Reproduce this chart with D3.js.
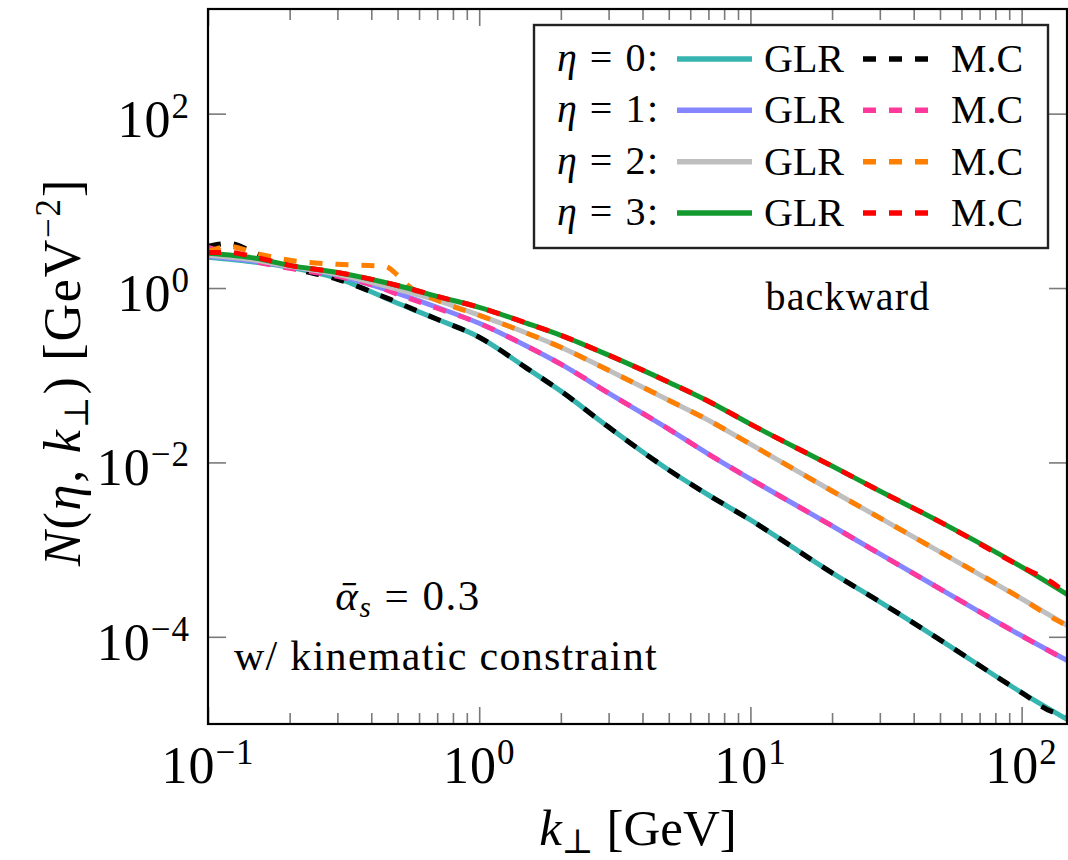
<!DOCTYPE html>
<html>
<head>
<meta charset="utf-8">
<script src="https://cdn.jsdelivr.net/npm/d3@7"></script>
<style>
  body { margin: 0; background: #fff; }
  svg { display: block; font-family: "Liberation Serif", "DejaVu Serif", serif; }
</style>
</head>
<body>
<svg id="chart"></svg>
<script>
const width = 1068, height = 860;
const box = { left: 208, right: 1067, top: 9, bottom: 724 };

// k_perp grids [GeV]
const kGLR = [0.1, 0.15, 0.2, 0.3, 0.5, 0.7, 1, 1.5, 2, 3, 5, 7, 10, 20, 30, 50, 100, 150];
const kMC = [0.1, 0.12, 0.15, 0.2, 0.3, 0.45, 0.5, 0.55, 0.7, 1, 1.5, 2, 3, 5, 7, 10, 20, 30, 50, 100, 130, 150];

// GLR solutions, N(eta, k) [GeV^-2]
const glrEta0 = [2.25, 1.97, 1.73, 1.29, 0.668, 0.438, 0.273, 0.120, 0.0657, 0.0254, 0.00818, 0.00423, 0.00219, 0.000541, 0.000252, 0.0000924, 0.0000229, 0.0000109];
const glrEta1 = [2.31, 2.02, 1.77, 1.40, 0.870, 0.601, 0.394, 0.215, 0.134, 0.0623, 0.0241, 0.01246, 0.00645, 0.00187, 0.000892, 0.000355, 0.0001027, 0.0000518];
const glrEta2 = [2.37, 2.08, 1.77, 1.44, 0.966, 0.723, 0.487, 0.303, 0.209, 0.114, 0.0517, 0.0305, 0.0162, 0.00470, 0.00231, 0.000941, 0.000273, 0.000130];
const glrEta3 = [2.50, 2.19, 1.82, 1.51, 1.07, 0.803, 0.601, 0.394, 0.287, 0.170, 0.0832, 0.0504, 0.0275, 0.00908, 0.00470, 0.00208, 0.000633, 0.000295];

// Monte Carlo results
const mcEta0 = [3.00, 3.25, 2.50, 1.73, 1.26, 0.782, 0.686, 0.601, 0.438, 0.273, 0.120, 0.0657, 0.0254, 0.00818, 0.00423, 0.00219, 0.000541, 0.000252, 0.0000924, 0.0000229, 0.0000138, 0.0000128];
const mcEta1 = [2.92, 2.50, 2.02, 1.68, 1.36, 0.966, 0.847, 0.762, 0.586, 0.394, 0.215, 0.134, 0.0623, 0.0241, 0.01246, 0.00645, 0.00187, 0.000892, 0.000355, 0.0001027, 0.0000656, 0.0000518];
const mcEta2 = [2.63, 3.00, 2.50, 2.08, 1.87, 1.77, 1.40, 1.05, 0.723, 0.487, 0.303, 0.209, 0.114, 0.0517, 0.0305, 0.0162, 0.00470, 0.00231, 0.000941, 0.000273, 0.000165, 0.000130];
const mcEta3 = [2.56, 2.56, 2.25, 1.82, 1.51, 1.16, 1.07, 0.992, 0.803, 0.601, 0.394, 0.287, 0.170, 0.0832, 0.0504, 0.0275, 0.00908, 0.00470, 0.00208, 0.000633, 0.000415, 0.000295];

const etaLabels = ["0", "1", "2", "3"];
const glrColors = ["#36b5b0", "#8585ff", "#bfbfbf", "#139a2e"];
const mcColors = ["#000000", "#ff399c", "#ff8000", "#ff0000"];

const xTickValues = [0.1, 1, 10, 100];
const xTickExp = ["\u22121", "0", "1", "2"];
const yTickValues = [1e-4, 1e-2, 1, 1e2];
const yTickExp = ["\u22124", "\u22122", "0", "2"];

const svg = d3.select("#chart").attr("width", width).attr("height", height);

const x = d3.scaleLog().domain([0.1, 147]).range([box.left, box.right]);
const y = d3.scaleLog().domain([1e-5, 1585]).range([box.bottom, box.top]);

const isDecade = d => Math.abs(Math.log10(d) - Math.round(Math.log10(d))) < 1e-6;
const xMinor = x.ticks().filter(d => !isDecade(d));

svg.append("defs").append("clipPath").attr("id", "plotClip")
    .append("rect")
    .attr("x", box.left).attr("y", box.top)
    .attr("width", box.right - box.left).attr("height", box.bottom - box.top);

// ticks on all four sides, pointing inward
const tickStyle = g => {
    g.select(".domain").remove();
    g.selectAll(".tick line").attr("stroke", "#7a7a7a").attr("stroke-width", 1.6);
    g.selectAll(".tick text").remove();
};

svg.append("g").attr("transform", `translate(0,${box.bottom})`)
    .call(d3.axisBottom(x).tickValues(xTickValues).tickSize(-17).tickFormat(""))
    .call(tickStyle);
svg.append("g").attr("transform", `translate(0,${box.bottom})`)
    .call(d3.axisBottom(x).tickValues(xMinor).tickSize(-11).tickFormat(""))
    .call(tickStyle);
svg.append("g").attr("transform", `translate(0,${box.top})`)
    .call(d3.axisTop(x).tickValues(xTickValues).tickSize(-17).tickFormat(""))
    .call(tickStyle);
svg.append("g").attr("transform", `translate(0,${box.top})`)
    .call(d3.axisTop(x).tickValues(xMinor).tickSize(-11).tickFormat(""))
    .call(tickStyle);
svg.append("g").attr("transform", `translate(${box.left},0)`)
    .call(d3.axisLeft(y).tickValues(yTickValues).tickSize(-18).tickFormat(""))
    .call(tickStyle);
svg.append("g").attr("transform", `translate(${box.right},0)`)
    .call(d3.axisRight(y).tickValues(yTickValues).tickSize(-18).tickFormat(""))
    .call(tickStyle);

// tick labels 10^n
const powLabel = (sel, exps) => {
    sel.append("tspan").text("10");
    sel.append("tspan").attr("dy", -19).attr("font-size", 35).text((d, i) => exps[i]);
};

svg.append("g").selectAll("text")
    .data(xTickValues)
    .join("text")
    .attr("x", d => x(d))
    .attr("y", 783)
    .attr("text-anchor", "middle")
    .attr("font-size", 52)
    .attr("letter-spacing", 1)
    .call(powLabel, xTickExp);

svg.append("g").selectAll("text")
    .data(yTickValues)
    .join("text")
    .attr("x", 190)
    .attr("y", d => y(d) + 23)
    .attr("text-anchor", "end")
    .attr("font-size", 52)
    .attr("letter-spacing", 1)
    .call(powLabel, yTickExp);

// curves
const line = d3.line()
    .x(d => x(d[0]))
    .y(d => y(d[1]))
    .curve(d3.curveMonotoneX);

const glrSeries = [glrEta0, glrEta1, glrEta2, glrEta3];
const mcSeries = [mcEta0, mcEta1, mcEta2, mcEta3];

const curves = svg.append("g").attr("clip-path", "url(#plotClip)")
    .attr("fill", "none");

glrSeries.forEach((vals, i) => {
    curves.append("path")
        .attr("d", line(kGLR.map((k, j) => [k, vals[j]])))
        .attr("stroke", glrColors[i])
        .attr("stroke-width", 5);
    curves.append("path")
        .attr("d", line(kMC.map((k, j) => [k, mcSeries[i][j]])))
        .attr("stroke", mcColors[i])
        .attr("stroke-width", 5)
        .attr("stroke-dasharray", "13,13");
});

// frame
svg.append("rect")
    .attr("x", box.left).attr("y", box.top)
    .attr("width", box.right - box.left).attr("height", box.bottom - box.top)
    .attr("fill", "none").attr("stroke", "#000").attr("stroke-width", 2.2);

// legend
const legend = svg.append("g");
legend.append("rect")
    .attr("x", 534).attr("y", 25).attr("width", 514).attr("height", 223)
    .attr("fill", "#fff").attr("stroke", "#222").attr("stroke-width", 2.4);

const rowY = d3.scaleLinear().domain([0, 3]).range([59, 213]);

etaLabels.forEach((eta, i) => {
    const cy = rowY(i);
    const t = legend.append("text").attr("x", 557).attr("y", cy + 12)
        .attr("font-size", 40).attr("letter-spacing", 1.5);
    t.append("tspan").attr("font-style", "italic").text("\u03b7");
    t.append("tspan").text(` = ${eta}:`);
    legend.append("line")
        .attr("x1", 677).attr("x2", 752).attr("y1", cy).attr("y2", cy)
        .attr("stroke", glrColors[i]).attr("stroke-width", 5.5);
    legend.append("text").attr("x", 764).attr("y", cy + 13).attr("font-size", 40).text("GLR");
    legend.append("line")
        .attr("x1", 863).attr("x2", 930).attr("y1", cy).attr("y2", cy)
        .attr("stroke", mcColors[i]).attr("stroke-width", 5.5)
        .attr("stroke-dasharray", "13,13");
    legend.append("text").attr("x", 951).attr("y", cy + 13).attr("font-size", 40).text("M.C");
});

// annotations
svg.append("text").attr("x", 848).attr("y", 310).attr("text-anchor", "middle")
    .attr("font-size", 40).attr("letter-spacing", 1.2).text("backward");

const alpha = svg.append("text").attr("x", 408).attr("y", 610).attr("text-anchor", "middle")
    .attr("font-size", 43).attr("letter-spacing", 1.5);
alpha.append("tspan").attr("font-style", "italic").text("\u1fb1");
alpha.append("tspan").attr("font-style", "italic").attr("font-size", 29).attr("dy", 7).text("s");
alpha.append("tspan").attr("dy", -7).text(" = 0.3");

svg.append("text").attr("x", 446).attr("y", 670).attr("text-anchor", "middle")
    .attr("font-size", 42).attr("letter-spacing", 1.3).text("w/ kinematic constraint");

// axis titles
const xTitle = svg.append("text").attr("x", 638).attr("y", 845).attr("text-anchor", "middle")
    .attr("font-size", 51);
xTitle.append("tspan").attr("font-style", "italic").text("k");
xTitle.append("tspan").attr("font-size", 34).attr("dy", 8).text("\u22a5");
xTitle.append("tspan").attr("dy", -8).text(" [GeV]");

const yTitle = svg.append("text")
    .attr("transform", "translate(80,372) rotate(-90)")
    .attr("text-anchor", "middle")
    .attr("font-size", 52)
    .attr("letter-spacing", 1.8);
yTitle.append("tspan").attr("font-style", "italic").text("N");
yTitle.append("tspan").text("(");
yTitle.append("tspan").attr("font-style", "italic").text("\u03b7");
yTitle.append("tspan").text(", ");
yTitle.append("tspan").attr("font-style", "italic").text("k");
yTitle.append("tspan").attr("font-size", 34).attr("dy", 8).text("\u22a5");
yTitle.append("tspan").attr("dy", -8).text(")  [GeV");
yTitle.append("tspan").attr("font-size", 35).attr("dy", -20).text("\u22122");
yTitle.append("tspan").attr("dy", 20).text("]");
</script>
</body>
</html>
